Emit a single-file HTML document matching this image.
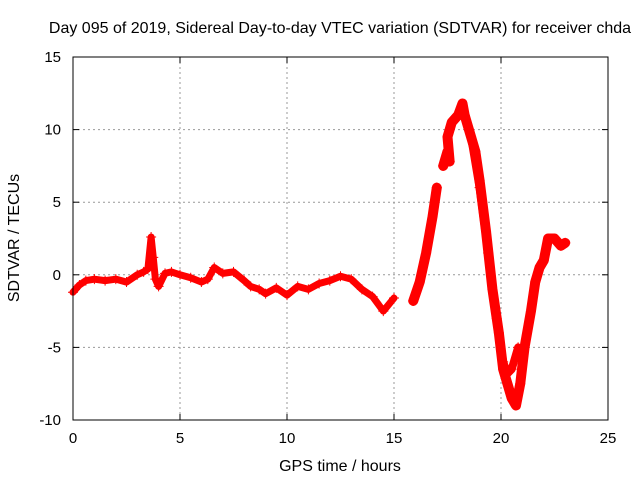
<!DOCTYPE html>
<html><head><meta charset="utf-8"><style>
body{margin:0;background:#fff;}
svg{display:block;font-family:"Liberation Sans",sans-serif;}
</style></head><body>
<svg id="chart" width="640" height="480">
<rect width="640" height="480" fill="#fff"/>
<text x="340" y="33" font-size="16" text-anchor="middle">Day 095 of 2019, Sidereal Day-to-day VTEC variation (SDTVAR) for receiver chda</text>
<text x="340" y="471" font-size="16" text-anchor="middle">GPS time / hours</text>
<text x="19" y="238" font-size="16" text-anchor="middle" transform="rotate(-90 19 238)">SDTVAR / TECUs</text>
<g id="grid"></g><g id="ticks"></g><g id="series"></g>
<rect x="73" y="57" width="535" height="363" fill="none" stroke="#000"/>
</svg>
<script>
const xTicks=[0,5,10,15,20,25];
const yTicks=[-10,-5,0,5,10,15];
const hours=[0,0.3,0.6,1,1.5,2,2.5,3,3.3,3.5,3.65,3.75,3.85,4,4.3,4.6,5,5.5,6,6.3,6.6,7,7.5,8,8.3,8.7,9,9.5,10,10.5,11,11.5,12,12.5,13,13.5,14,14.5,15];
const values=[-1.2,-0.7,-0.4,-0.3,-0.4,-0.3,-0.5,0,0.2,0.4,2.6,1.2,-0.3,-0.8,0.1,0.2,0,-0.2,-0.5,-0.3,0.5,0.1,0.2,-0.4,-0.8,-1.0,-1.3,-0.9,-1.4,-0.8,-1.0,-0.6,-0.4,-0.1,-0.3,-1.0,-1.5,-2.5,-1.6];
const hours2=[15.9,16.2,16.5,16.8,17.0,17.1,17.3,17.5,17.6,17.5,17.7,18.0,18.2,18.3,18.5,18.8,19.0,19.3,19.6,19.9,20.1,20.3,20.5,20.7,20.9,21.1,21.4,21.6,21.8,22.0,22.2,22.5,22.8,23.0];
const values2=[-1.8,-0.5,1.5,4,6,null,7.5,8.5,7.8,9.5,10.5,11,11.8,11,10,8.5,6.5,3,-1,-4,-6.5,-7.5,-8.5,-9,-7.5,-5,-2.5,-0.5,0.5,1,2.5,2.5,2.0,2.2];
const hours3=[18.6,19.0,19.4,19.8,20.1,20.3,20.5,20.8];
const values3=[9.5,6,1.5,-3,-6,-6.8,-6.5,-5];
const NS='http://www.w3.org/2000/svg';
const X=v=>73+v*(535/25), Y=v=>420-(v+10)*(363/25);
function mk(tag,attrs,parent){const e=document.createElementNS(NS,tag);for(const k in attrs)e.setAttribute(k,attrs[k]);document.getElementById(parent).appendChild(e);return e;}
xTicks.forEach(t=>{
 if(t>0&&t<25){const g=mk('line',{x1:X(t),x2:X(t),y1:57,y2:420,stroke:'#999','stroke-dasharray':'2,3'},'grid');
 
 }
 const l=mk('text',{x:X(t),y:443,'font-size':15,'text-anchor':'middle'},'ticks');l.textContent=t;
 
 
 mk('line',{x1:X(t),x2:X(t),y1:420,y2:414,stroke:'#000'},'ticks');mk('line',{x1:X(t),x2:X(t),y1:57,y2:63,stroke:'#000'},'ticks');
});
yTicks.forEach(t=>{
 if(t>-10&&t<15){const g=mk('line',{x1:73,x2:608,y1:Y(t),y2:Y(t),stroke:'#999','stroke-dasharray':'2,3'},'grid');
 
 }
 const l=mk('text',{x:61,y:Y(t)+5,'font-size':15,'text-anchor':'end'},'ticks');l.textContent=t;
 
 
 mk('line',{x1:73,x2:79,y1:Y(t),y2:Y(t),stroke:'#000'},'ticks');mk('line',{x1:608,x2:602,y1:Y(t),y2:Y(t),stroke:'#000'},'ticks');
});
function drawSeries(hs,vs,name,w){
 let segs=[[]];
 hs.forEach((h,i)=>{if(vs[i]===null){segs.push([]);return;}segs[segs.length-1].push([X(h),Y(vs[i])]);});
 segs.forEach(s=>{if(s.length<2)return;
  const p=mk('polyline',{points:s.map(q=>q.join(',')).join(' '),fill:'none',stroke:'#f00','stroke-width':w,'stroke-linejoin':'round','stroke-linecap':'round'},'series');
  
  
  s.forEach(q=>{const m=mk('path',{d:`M${q[0]-5},${q[1]}h10M${q[0]},${q[1]-5}v10`,stroke:'#f00','stroke-width':1},'series');
   
   });
 });
}
drawSeries(hours,values,'sdtvar-early',7);
drawSeries(hours2,values2,'sdtvar-late',10);
drawSeries(hours3,values3,'sdtvar-late-branch',8);
</script>
</body></html>
